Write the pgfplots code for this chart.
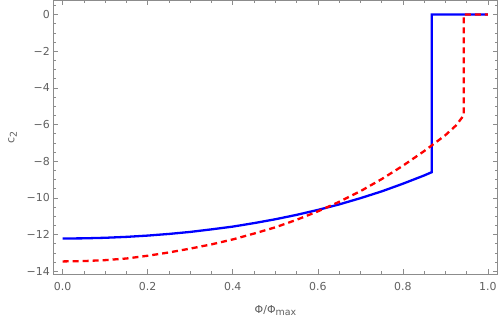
\documentclass[border=0pt]{standalone}
\usepackage{fontspec}
\setmainfont{DejaVu Sans}
\usepackage{pgfplots}
\pgfplotsset{compat=1.18}
\definecolor{framegray}{HTML}{8C8C8C}
\definecolor{labelgray}{HTML}{606060}
\begin{document}
\begin{tikzpicture}
\begin{axis}[
  at={(0,0)}, anchor=south west,
  scale only axis, width=444.7bp, height=274.3bp,
  xmin=-0.022, xmax=1.023, ymin=-14.18, ymax=0.78,
  axis line style={framegray, line width=0.8bp},
  tick style={framegray, line width=0.6bp},
  major tick length=5bp, minor tick length=3bp,
  tick align=inside,
  xtick={0,0.2,0.4,0.6,0.8,1.0},
  xticklabels={0.0,0.2,0.4,0.6,0.8,1.0},
  minor xtick={0.05,0.1,0.15,0.25,0.3,0.35,0.45,0.5,0.55,0.65,0.7,0.75,0.85,0.9,0.95},
  ytick={-14,-12,-10,-8,-6,-4,-2,0},
  yticklabels={−14,−12,−10,−8,−6,−4,−2,0},
  minor ytick={-13.5,-13,-12.5,-11.5,-11,-10.5,-9.5,-9,-8.5,-7.5,-7,-6.5,-5.5,-5,-4.5,-3.5,-3,-2.5,-1.5,-1,-0.5,0.5},
  ticklabel style={font=\fontsize{11}{13}\selectfont, text=labelgray},
  xticklabel style={yshift=-4bp},
  every axis x label/.style={at={(axis description cs:0.5,-0.112)}, anchor=north, inner sep=0pt, font=\fontsize{11}{13}\selectfont, text=labelgray},
  every axis y label/.style={at={(axis description cs:-0.0814,0.5)}, rotate=90, anchor=south, inner sep=0pt, font=\fontsize{11}{13}\selectfont, text=labelgray},
  xlabel={Φ/Φ{\fontsize{9.5}{10}\selectfont\raisebox{-2.5bp}{max}}},
  ylabel={c{\fontsize{9.5}{10}\selectfont\raisebox{-2.5bp}{2}}},
]
\addplot[color={rgb,255:red,0;green,0;blue,255}, line width=2.3bp, line join=miter] coordinates {
(0,-12.22) (0.05,-12.21) (0.1,-12.18) (0.15,-12.13) (0.2,-12.06) (0.25,-11.97)
(0.3,-11.86) (0.35,-11.72) (0.4,-11.57) (0.45,-11.38) (0.5,-11.17) (0.55,-10.93)
(0.6,-10.66) (0.65,-10.36) (0.7,-10.02) (0.75,-9.65) (0.8,-9.23) (0.85,-8.78)
(0.868,-8.60) (0.868,0) (1.0,0)
};
\addplot[color={rgb,255:red,255;green,0;blue,0}, line width=2.3bp, line join=miter, dash pattern=on 6bp off 4bp] coordinates {
(0,-13.47) (0.05,-13.45) (0.1,-13.40) (0.15,-13.31) (0.2,-13.16) (0.25,-12.98)
(0.3,-12.77) (0.35,-12.54) (0.4,-12.27) (0.45,-11.95) (0.5,-11.61) (0.55,-11.20)
(0.6,-10.74) (0.65,-10.22) (0.7,-9.64) (0.75,-8.98) (0.8,-8.25) (0.85,-7.45)
(0.9,-6.58) (0.925,-6.05) (0.943,-5.5) (0.943,0) (1.0,0)
};
\end{axis}
\pgfresetboundingbox
\path[use as bounding box] (-53.3bp,-46.7bp) rectangle (445bp,274.6bp);
\end{tikzpicture}
\end{document}
